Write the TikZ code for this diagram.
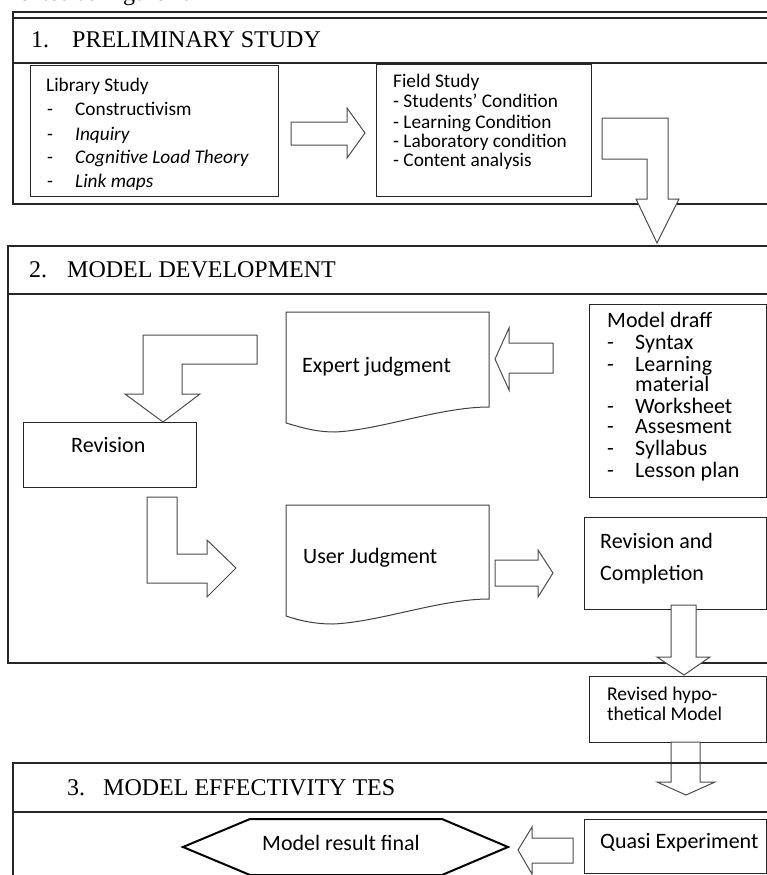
\documentclass[tikz,border=0pt]{standalone}
\usepackage{fontspec}
\setmainfont{Carlito}
\newfontfamily\headfont{Liberation Serif}
\tikzset{
  box/.style={draw=black!85, line width=1pt, anchor=north west, inner sep=0pt},
  frame/.style={draw=black!85, line width=1.2pt},
  blockarrow/.style={draw=black!70, fill=white, line width=1pt, line join=miter},
  doc/.style={draw=black!75, line width=1pt},
  txt/.style={anchor=base west, inner sep=0pt, font=\fontsize{22}{24}\selectfont},
  small/.style={anchor=base west, inner sep=0pt, font=\fontsize{19.3}{21}\selectfont},
  head/.style={anchor=base west, inner sep=0pt, font=\headfont\fontsize{24}{26}\selectfont},
}
\begin{document}
\begin{tikzpicture}[x=1pt,y=-1pt]
\useasboundingbox (0,0) rectangle (767,875);
\clip (0,0) rectangle (767,875);

\node[head, anchor=base east] (cap) at (190,1) {ented as Figure 4.};

% Sezione 1
\draw[frame] (780,12) -- (13,12) -- (13,204) -- (780,204);
\draw[frame] (13,18) -- (780,18);
\draw[frame] (13,63) -- (780,63);
\node[head] (num1) at (31,48) {1.};
\node[head] (sec1) at (72,48) {PRELIMINARY STUDY};

\node[box, minimum width=248, minimum height=131] (lib) at (30,65) {};
\node[small] (libhead) at (46,92) {Library Study};
\node[small] (libd1) at (47,115) {-};
\node[small] (lib1) at (75,115) {Constructivism};
\node[small] (libd2) at (47,140) {-};
\node[small] (lib2) at (75,140) {\itshape Inquiry};
\node[small] (libd3) at (47,163) {-};
\node[small] (lib3) at (75,163) {\itshape Cognitive Load Theory};
\begin{scope}
  \clip (30,65) rectangle (278,189);
  \node[small] (libd4) at (47,187) {-};
  \node[small] (lib4) at (75,187) {\itshape Link maps};
\end{scope}

\node[box, minimum width=215, minimum height=132] (field) at (376,64) {};
\node[small] (fieldhead) at (393,87) {Field Study};
\node[small] (field1) at (393,107) {- Students’ Condition};
\node[small] (field2) at (393,128) {- Learning Condition};
\node[small] (field3) at (393,147) {- Laboratory condition};
\node[small] (field4) at (393,166) {- Content analysis};

% Frecce sezione 1
\draw[blockarrow] (291,122) -- (347,122) -- (347,108) -- (365,133) -- (347,158) -- (347,145) -- (291,145) -- cycle;
\draw[blockarrow] (602,118) -- (668,118) -- (668,199) -- (679,199) -- (657,243) -- (636,199) -- (647,199) -- (647,159) -- (602,159) -- cycle;

% Sezione 2
\draw[frame] (780,246) -- (8,246) -- (8,663) -- (780,663);
\draw[frame] (8,294) -- (780,294);
\node[head] (num2) at (29,277) {2.};
\node[head] (sec2) at (67,277) {MODEL DEVELOPMENT};

\draw[doc] (286,423) -- (286,312) -- (489,312) -- (489,407)
  .. controls (440,407) and (380,430) .. (335,432)
  .. controls (315,432) and (300,427) .. (286,423);
\node[txt] (expert) at (302,372) {Expert judgment};

\node[box, minimum width=177, minimum height=193] (draft) at (589,304) {};
\node[txt] (drafthead) at (607,327) {Model draff};
\node[txt] (draftd1) at (607,349) {-};
\node[txt] (draft1) at (635,349) {Syntax};
\node[txt] (draftd2) at (607,371) {-};
\node[txt] (draft2) at (635,371) {Learning};
\node[txt] (draft2b) at (635,391) {material};
\node[txt] (draftd3) at (607,413) {-};
\node[txt] (draft3) at (635,413) {Worksheet};
\node[txt] (draftd4) at (607,433) {-};
\node[txt] (draft4) at (635,433) {Assesment};
\node[txt] (draftd5) at (607,455) {-};
\node[txt] (draft5) at (635,455) {Syllabus};
\node[txt] (draftd6) at (607,477) {-};
\node[txt] (draft6) at (635,477) {Lesson plan};

\node[box, minimum width=173, minimum height=65] (rev) at (23,422) {};
\node[txt] (revtext) at (71,452) {Revision};

\draw[doc] (286,616) -- (286,505) -- (489,505) -- (489,599)
  .. controls (440,599) and (380,622) .. (333,624)
  .. controls (313,624) and (298,620) .. (286,616);
\node[txt] (user) at (303,563) {User Judgment};

\node[box, minimum width=182, minimum height=92] (revcomp) at (584,517) {};
\node[txt] (revcomp1) at (600,548) {Revision and};
\node[txt] (revcomp2) at (600,580) {Completion};

% Frecce sezione 2
\draw[blockarrow] (553,343) -- (509,343) -- (509,328) -- (495,359) -- (509,390) -- (509,373) -- (553,373) -- cycle;
\draw[blockarrow] (257,335) -- (143,335) -- (143,394) -- (125,394) -- (163,422) -- (200,394) -- (182,394) -- (182,364) -- (257,364) -- cycle;
\draw[blockarrow] (147,497) -- (177,497) -- (177,554) -- (207,554) -- (207,540) -- (236,568) -- (207,597) -- (207,583) -- (147,583) -- cycle;
\draw[blockarrow] (495,560) -- (538,560) -- (538,550) -- (553,573) -- (538,597) -- (538,586) -- (495,586) -- cycle;
\draw[blockarrow] (671,605) -- (696,605) -- (696,657) -- (710,657) -- (684,675) -- (657,657) -- (671,657) -- cycle;

\node[box, minimum width=177, minimum height=66] (revised) at (589,676) {};
\node[small, font=\fontsize{19.5}{21}\selectfont] (revised1) at (607,700) {Revised hypo-};
\node[small, font=\fontsize{19.5}{21}\selectfont] (revised2) at (607,720) {thetical Model};

\draw[blockarrow] (671,742) -- (700,742) -- (700,782) -- (715,782) -- (686,795) -- (657,782) -- (671,782) -- cycle;

% Sezione 3
\draw[frame, line width=2pt] (780,763) -- (13,763) -- (13,880);
\draw[frame] (13,812) -- (780,812);
\node[head] (num3) at (67,795) {3.};
\node[head] (sec3) at (103,795) {MODEL EFFECTIVITY TES};

\node[box, minimum width=182, minimum height=54] (quasi) at (584,819) {};
\node[txt] (quasitext) at (600,848) {Quasi Experiment};

\draw[blockarrow] (573,838) -- (532,838) -- (532,827) -- (518,850) -- (532,874) -- (532,863) -- (573,863) -- cycle;
\draw[line width=2pt] (183,847) -- (250,819) -- (442,819) -- (508,847) -- (442,875) -- (250,875) -- cycle;
\node[txt] (final) at (262,850) {Model result final};
\end{tikzpicture}
\end{document}
